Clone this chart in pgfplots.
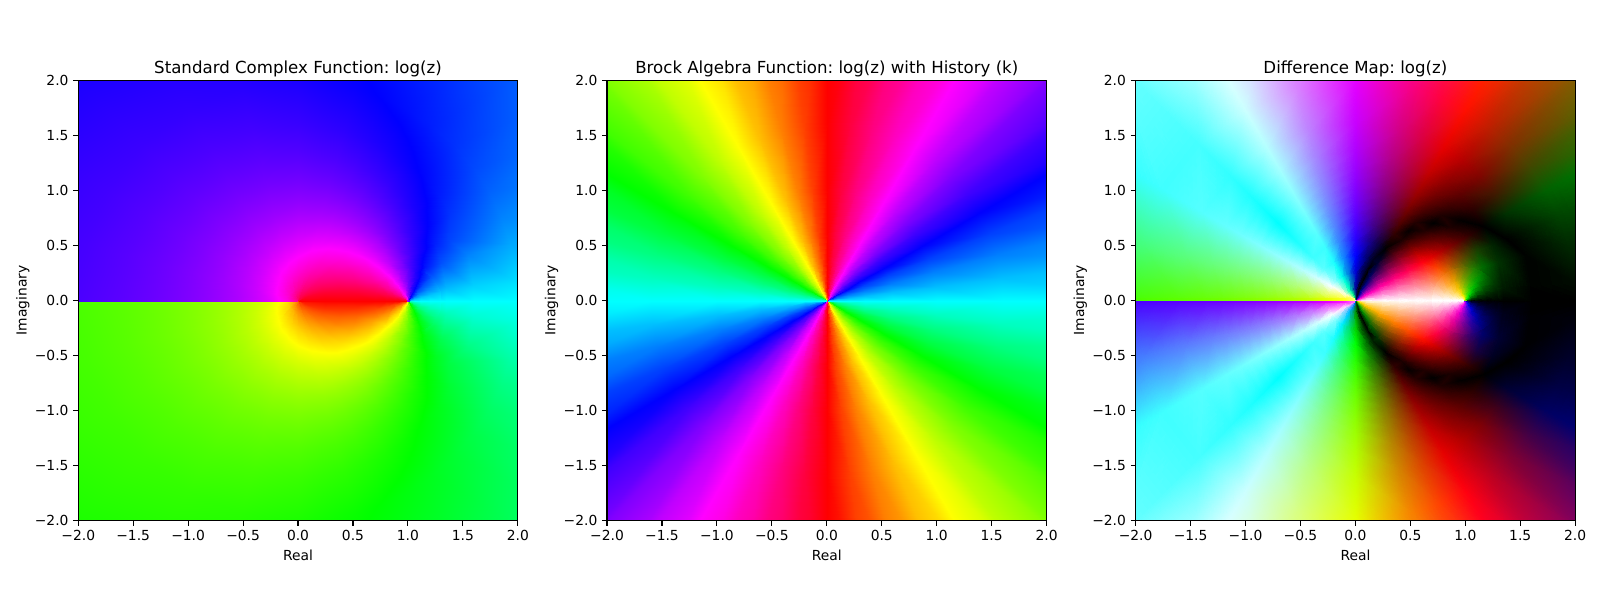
\documentclass[border=0pt]{standalone}
\usepackage{pgfplots}
\pgfplotsset{compat=1.18}
\usepackage{pgfplotstable}
\usepackage{fontspec}
\setmainfont{DejaVu Sans}
\frenchspacing
% upper half plane on a polar grid: angle, radius, hue of left panel, rgb of right panel
\pgfplotstableread{
t r H R G B
0 0.01 360 1 1 1
5 0.01 358.9 1 .83 .98
15 0.01 356.75 1 .5 .95
22.5 0.01 355.13 1 .25 .92
30 0.01 353.5 1 0 .89
37.5 0.01 351.9 .75 0 .87
45 0.01 350.3 .5 0 .84
52.5 0.01 348.75 .25 0 .81
60 0.01 347.2 0 0 .79
67.5 0.01 345.65 0 0 .51
75 0.01 344.1 0 0 .24
90 0.01 341.2 0 0 .31
105 0.01 338.3 0 .5 .36
120 0.01 335.5 0 1 .41
135 0.01 332.9 .5 1 .45
150 0.01 330.4 1 1 .49
165 0.01 328 1 1 .03
180 0.01 325.7 1 1 .43
0 0.1 360 1 1 1
5 0.1 357.8 1 .83 .96
15 0.1 353.5 1 .5 .89
22.5 0.1 350.3 1 .25 .84
30 0.1 347.2 1 0 .79
37.5 0.1 344.1 .75 0 .74
45 0.1 341.2 .5 0 .69
52.5 0.1 338.3 .25 0 .64
60 0.1 335.6 0 0 .59
67.5 0.1 332.9 0 0 .3
75 0.1 330.4 0 0 .01
90 0.1 325.7 0 0 .57
105 0.1 321.5 0 .5 .64
120 0.1 317.7 0 1 .7
135 0.1 314.4 .5 1 .76
150 0.1 311.3 1 1 .81
165 0.1 308.7 1 1 .36
180 0.1 306.2 1 1 .1
0 0.25 360 1 1 1
5 0.25 356.4 1 .83 .94
15 0.25 349.3 1 .5 .82
22.5 0.25 344.2 1 .25 .74
30 0.25 339.3 1 0 .65
37.5 0.25 334.7 .75 0 .58
45 0.25 330.5 .5 0 .51
52.5 0.25 326.5 .25 0 .44
60 0.25 322.9 0 0 .38
67.5 0.31 314.8 0 0 0
75 0.25 316.6 0 0 .22
90 0.25 311.4 0 0 .81
105 0.25 307.1 0 .5 .88
120 0.25 303.5 0 1 .94
135 0.25 300.5 .5 1 .99
150 0.25 297.9 .97 1 1
165 0.25 295.7 .93 1 .5
180 0.25 293.8 .9 1 0
0 0.4 360 1 1 1
5 0.4 354.6 1 .83 .91
15 0.4 344.1 1 .5 .73
22.5 0.4 336.8 1 .25 .61
30 0.4 330.3 1 0 .5
37.5 0.4 324.5 .75 0 .41
45 0.4 319.4 .5 0 .32
52.5 0.4 315 .25 0 .25
60 0.4 311.2 0 0 .19
67.5 0.4 307.9 0 0 .12
75 0.4 305 0 0 .42
90 0.4 300.3 0 0 1
105 0.4 296.6 .06 .5 1
120 0.4 293.6 .11 1 1
135 0.4 291.2 .35 1 1
150 0.4 289.3 .82 1 1
165 0.4 287.6 .79 1 .5
180 0.4 286.3 .77 1 0
0 0.55 360 1 1 1
5 0.55 351.7 1 .83 .86
15 0.55 336.4 1 .5 .61
22.5 0.55 326.7 1 .25 .44
30 0.55 318.8 1 0 .31
37.5 0.55 312.4 .75 0 .21
45 0.55 307.3 .5 0 .12
52.5 0.55 303.1 .25 0 .05
60 0.55 299.7 0 0 0
67.5 0.55 296.9 .05 0 .25
75 0.55 294.6 .09 0 .5
90 0.55 290.8 .15 0 1
105 0.55 288.1 .2 .5 1
120 0.55 285.9 .23 1 1
135 0.55 284.2 .24 1 1
150 0.55 282.9 .71 1 1
165 0.55 281.7 .7 1 .5
180 0.55 280.8 .68 1 0
0 0.7 360 1 1 1
5 0.7 346.3 1 .83 .77
15 0.7 323.8 1 .5 .4
22.5 0.7 312.3 1 .25 .2
30 0.7 304.3 1 0 .07
37.5 0.7 298.6 .73 0 0
45 0.7 294.4 .41 0 0
52.5 0.7 291.3 .11 0 0
60 0.7 288.8 .19 0 0
67.5 0.7 286.9 .22 0 .25
75 0.7 285.3 .25 0 .5
90 0.7 282.8 .29 0 1
105 0.7 281 .32 .5 1
120 0.7 279.7 .34 1 1
135 0.7 278.6 .14 1 1
150 0.7 277.8 .63 1 1
165 0.7 277.1 .62 1 .5
180 0.7 276.5 .61 1 0
0 0.8 360 1 1 1
5 0.8 338.6 1 .83 .64
15 0.8 310.4 1 .5 .17
22.5 0.8 299.6 .99 .25 0
30 0.8 293.1 .88 0 0
37.5 0.8 288.8 .56 0 0
45 0.8 285.9 .26 0 0
52.5 0.8 283.7 .02 0 0
60 0.8 282 .3 0 0
67.5 0.8 280.7 .32 0 .25
75 0.8 279.7 .34 0 .5
90 0.8 278.1 .37 0 1
105 0.8 276.9 .38 .5 1
120 0.8 276.1 .4 1 1
135 0.8 275.4 .09 1 1
150 0.8 274.9 .58 1 1
165 0.8 274.4 .57 1 .5
180 0.8 274.1 .57 1 0
0 0.9 360 1 1 1
5 0.9 320.3 1 .83 .34
15 0.9 291.9 .86 .5 0
22.5 0.9 285 .75 .25 0
30 0.9 281.3 .69 0 0
37.5 0.9 279.1 .4 0 0
45 0.9 277.6 .13 0 0
52.5 0.9 276.5 .14 0 0
60 0.9 275.7 .4 0 0
67.5 0.9 275.1 .42 0 .25
75 0.9 274.6 .42 0 .5
90 0.9 273.8 .44 0 1
105 0.9 273.3 .45 .5 1
120 0.9 272.9 .45 1 1
135 0.9 272.6 .04 1 1
150 0.9 272.3 .54 1 1
165 0.9 272.1 .53 1 .5
180 0.9 271.9 .53 1 0
0 1 270 .5 1 0
5 1 270 .5 .83 0
15 1 270 .5 .5 0
22.5 1 270 .5 .25 0
30 1 270 .5 0 0
37.5 1 270 .25 0 0
45 1 270 0 0 0
52.5 1 270 .25 0 0
60 1 270 .5 0 0
67.5 1 270 .5 0 .25
75 1 270 .5 0 .5
90 1 270 .5 0 1
105 1 270 .5 .5 1
120 1 270 .5 1 1
135 1 270 0 1 1
150 1 270 .5 1 1
165 1 270 .5 1 .5
180 1 270 .5 1 0
0 1.1 180 0 0 0
5 1.1 222.6 0 .54 0
15 1.1 250.1 .17 .5 0
22.5 1.1 256.4 .27 .25 0
30 1.1 259.7 .33 0 0
37.5 1.1 261.7 .11 0 0
45 1.1 263.1 .12 0 0
52.5 1.1 264.1 .35 0 0
60 1.1 264.8 .59 0 0
67.5 1.1 265.4 .58 0 .25
75 1.1 265.9 .57 0 .5
90 1.1 266.5 .56 0 1
105 1.1 267 .55 .5 1
120 1.1 267.4 .54 1 1
135 1.1 267.7 .04 1 1
150 1.1 267.9 .47 1 1
165 1.1 268.1 .47 1 .5
180 1.1 268.3 .47 1 0
0 1.2 180 0 0 0
5 1.2 205.6 0 .26 0
15 1.2 235.2 0 .42 0
22.5 1.2 245.1 .09 .25 0
30 1.2 250.8 .18 0 0
37.5 1.2 254.5 .01 0 0
45 1.2 257 .22 0 0
52.5 1.2 258.8 .44 0 0
60 1.2 260.1 .66 0 0
67.5 1.2 261.2 .65 0 .25
75 1.2 262.1 .63 0 .5
90 1.2 263.4 .61 0 1
105 1.2 264.3 .59 .5 1
120 1.2 265 .58 1 1
135 1.2 265.6 .07 1 1
150 1.2 266 .43 1 1
165 1.2 266.4 .44 1 .5
180 1.2 266.7 .44 1 0
0 1.35 180 0 0 0
5 1.35 196.2 0 .1 0
15 1.35 221.1 0 .19 0
22.5 1.35 232.6 0 .13 0
30 1.35 240.2 0 0 0
37.5 1.35 245.4 .16 0 0
45 1.35 249.1 .35 0 0
52.5 1.35 251.9 .55 0 0
60 1.35 254 .77 0 0
67.5 1.35 255.7 .74 0 .25
75 1.35 257.1 .72 0 .5
90 1.35 259.2 .68 0 1
105 1.35 260.7 .65 .5 1
120 1.35 261.9 .64 1 1
135 1.35 262.7 .12 1 1
150 1.35 263.5 .39 1 1
165 1.35 264.1 .4 1 .5
180 1.35 264.6 .41 1 0
0 1.6 180 0 0 0
5 1.6 190.5 0 .01 0
15 1.6 209.1 0 .01 0
22.5 1.48 225 0 0 0
30 1.6 228.1 0 .2 0
37.5 1.6 234.3 .25 .1 0
45 1.6 239.1 .5 .02 0
52.5 1.6 242.8 .7 0 0
60 1.6 245.8 .9 0 0
67.5 1.6 248.3 .86 0 .25
75 1.6 250.3 .83 0 .5
90 1.6 253.3 .78 0 1
105 1.6 255.6 .74 .5 1
120 1.6 257.4 .71 1 1
135 1.6 258.7 .19 1 1
150 1.6 259.8 .33 1 1
165 1.6 260.7 .35 1 .5
180 1.6 261.5 .36 1 0
0 2 180 0 0 0
5 2 187.2 0 .05 0
15 2 200.7 0 .16 0
22.5 2 209.5 0 .26 0
30 2 217.1 0 .38 0
37.5 2 223.4 .25 .28 0
45 2 228.6 .5 .19 0
52.5 2 232.9 .75 .12 0
60 2 236.5 1 .06 0
67.5 2 239.5 1 .01 .25
75 2 242.1 .97 0 .5
90 2 246.2 .9 0 1
105 2 249.3 .85 .5 1
120 2 251.7 .8 1 1
135 2 253.6 .27 1 1
150 2 255.2 .25 1 1
165 2 256.5 .27 1 .5
180 2 257.6 .29 1 0
0 3 180 0 0 0
5 3 184.5 0 .09 0
15 3 193.4 0 .28 0
22.5 3 199.7 0 .42 0
30 3 205.5 0 .58 0
37.5 3 210.8 .25 .49 0
45 3 215.6 .5 .41 0
52.5 3 219.8 .75 .34 0
60 3 223.6 1 .27 0
67.5 3 227 1 .22 .25
75 3 230 1 .17 .5
90 3 235 1 .08 1
105 3 239.1 1 .48 1
120 3 242.3 .96 1 1
135 3 245 .42 1 1
150 3 247.2 .12 1 1
165 3 249.1 .15 1 .5
180 3 250.7 .18 1 0
}\dataUp
% finer patch around z=1, upper half: x, y, hue of left panel, rgb of right panel
\pgfplotstableread{
x y H R G B
1.02 0 180 0 0 0
1.019 .005 194.85 0 .24 0
1.017 .01 209.7 0 .48 0
1.014 .014 224.6 0 .71 0
1.01 .017 239.5 0 .96 0
1.005 .019 254.5 .24 .96 0
1 .02 269.4 .49 .96 0
.995 .019 284.5 .74 .96 0
.99 .017 299.5 .99 .97 0
.986 .014 314.6 1 .97 .24
.983 .01 329.7 1 .98 .5
.981 .005 344.85 1 .99 .75
.98 0 360 1 1 1
1.06 0 180 0 0 0
1.058 .016 194.6 0 .21 0
1.052 .03 209.2 0 .44 0
1.042 .042 223.8 0 .65 0
1.03 .052 238.55 0 .88 0
1.016 .058 253.4 .22 .89 0
1 .06 268.3 .47 .885 0
.984 .058 283.3 .72 .89 0
.97 .052 298.5 .97 .9 0
.958 .042 313.75 1 .915 .23
.948 .03 329.1 1 .94 .49
.942 .016 344.5 1 .97 .74
.94 0 360 1 1 1
1.12 0 180 0 0 0
1.116 .031 194.2 0 .18 0
1.104 .06 208.4 0 .37 0
1.085 .085 222.7 0 .56 0
1.06 .104 237.2 0 .77 0
1.031 .116 251.8 .2 .79 0
1 .12 266.6 .44 .77 0
.969 .116 281.6 .69 .77 0
.94 .104 296.9 .95 .79 0
.915 .085 312.4 1 .82 .21
.896 .06 328.1 1 .87 .47
.884 .031 344 1 .93 .73
.88 0 360 1 1 1
1.2 0 180 0 0 0
1.193 .052 193.7 0 .15 0
1.173 .1 207.5 0 .3 0
1.141 .141 221.4 0 .46 0
1.1 .173 235.5 0 .63 0
1.052 .193 249.8 .16 .65 0
1 .2 264.3 .41 .62 0
.948 .193 279.3 .65 .62 0
.9 .173 294.6 .91 .64 0
.859 .141 310.4 1 .69 .17
.827 .1 326.7 1 .77 .44
.807 .052 343.2 1 .88 .72
.8 0 360 1 1 1
1.3 0 180 0 0 0
1.29 .078 193.2 0 .105 0
1.26 .15 206.5 0 .215 0
1.212 .212 219.9 0 .33 0
1.15 .26 233.5 0 .47 0
1.078 .29 247.3 .12 .5 0
1 .3 261.6 .36 .44 0
.922 .29 276.4 .61 .42 0
.85 .26 291.7 .86 .43 0
.788 .212 307.7 1 .5 .13
.74 .15 324.6 1 .62 .41
.71 .078 342 1 .79 .7
.7 0 360 1 1 1
}\dataOne
% thin strip under the real axis, so no background shows along the cut
\pgfplotstableread{
x y H R G B
-3 -.012 250.7 .18 1 0
-2 -.012 257.6 .29 1 0
-1.6 -.012 261.5 .36 1 0
-1.35 -.012 264.6 .41 1 0
-1.2 -.012 266.7 .44 1 0
-1.1 -.012 268.3 .47 1 0
-1 -.012 270 .5 1 0
-.9 -.012 271.9 .53 1 0
-.8 -.012 274.1 .57 1 0
-.7 -.012 276.5 .61 1 0
-.55 -.012 280.8 .68 1 0
-.4 -.012 286.3 .77 1 0
-.25 -.012 293.8 .9 1 0
-.1 -.012 306.2 1 1 .1
-.01 -.012 325.7 1 1 .43
.01 -.012 360 1 1 1
.98 -.012 360 1 1 1
1.02 -.012 180 0 0 0
3 -.012 180 0 0 0
-3 .03 250.7 .18 1 0
-2 .03 257.6 .29 1 0
-1.6 .03 261.5 .36 1 0
-1.35 .03 264.6 .41 1 0
-1.2 .03 266.7 .44 1 0
-1.1 .03 268.3 .47 1 0
-1 .03 270 .5 1 0
-.9 .03 271.9 .53 1 0
-.8 .03 274.1 .57 1 0
-.7 .03 276.5 .61 1 0
-.55 .03 280.8 .68 1 0
-.4 .03 286.3 .77 1 0
-.25 .03 293.8 .9 1 0
-.1 .03 306.2 1 1 .1
-.01 .03 325.7 1 1 .43
.01 .03 360 1 1 1
.98 .03 360 1 1 1
1.02 .03 180 0 0 0
3 .03 180 0 0 0
}\dataCut
% same colours along the negative axis only, laid over the right panel's cut
\pgfplotstableread{
x y R G B
-3 -.002 .18 1 0
-2 -.002 .29 1 0
-1.6 -.002 .36 1 0
-1.35 -.002 .41 1 0
-1.2 -.002 .44 1 0
-1.1 -.002 .47 1 0
-1 -.002 .5 1 0
-.9 -.002 .53 1 0
-.8 -.002 .57 1 0
-.7 -.002 .61 1 0
-.55 -.002 .68 1 0
-.4 -.002 .77 1 0
-.25 -.002 .9 1 0
-.1 -.002 1 1 .1
-.01 -.002 1 1 .43
-3 .02 .18 1 0
-2 .02 .29 1 0
-1.6 .02 .36 1 0
-1.35 .02 .41 1 0
-1.2 .02 .44 1 0
-1.1 .02 .47 1 0
-1 .02 .5 1 0
-.9 .02 .53 1 0
-.8 .02 .57 1 0
-.7 .02 .61 1 0
-.55 .02 .68 1 0
-.4 .02 .77 1 0
-.25 .02 .9 1 0
-.1 .02 1 1 .1
-.01 .02 1 1 .43
}\dataCutTop
\pgfplotstableread{
x y H
-3 -.03 180
3 -.03 180
-3 .03 180
3 .03 180
}\dataMidCut
% middle panel: hue depends on the angle only
\pgfplotstableread{
t r H
0 0.008 180
7.5 0.008 195
15 0.008 210
22.5 0.008 225
30 0.008 240
37.5 0.008 255
45 0.008 270
52.5 0.008 285
60 0.008 300
67.5 0.008 315
75 0.008 330
82.5 0.008 345
90 0.008 360
97.5 0.008 375
105 0.008 390
112.5 0.008 405
120 0.008 420
127.5 0.008 435
135 0.008 450
142.5 0.008 465
150 0.008 480
157.5 0.008 495
165 0.008 510
172.5 0.008 525
180 0.008 540
0 0.1 180
7.5 0.1 195
15 0.1 210
22.5 0.1 225
30 0.1 240
37.5 0.1 255
45 0.1 270
52.5 0.1 285
60 0.1 300
67.5 0.1 315
75 0.1 330
82.5 0.1 345
90 0.1 360
97.5 0.1 375
105 0.1 390
112.5 0.1 405
120 0.1 420
127.5 0.1 435
135 0.1 450
142.5 0.1 465
150 0.1 480
157.5 0.1 495
165 0.1 510
172.5 0.1 525
180 0.1 540
0 0.2 180
7.5 0.2 195
15 0.2 210
22.5 0.2 225
30 0.2 240
37.5 0.2 255
45 0.2 270
52.5 0.2 285
60 0.2 300
67.5 0.2 315
75 0.2 330
82.5 0.2 345
90 0.2 360
97.5 0.2 375
105 0.2 390
112.5 0.2 405
120 0.2 420
127.5 0.2 435
135 0.2 450
142.5 0.2 465
150 0.2 480
157.5 0.2 495
165 0.2 510
172.5 0.2 525
180 0.2 540
0 0.35 180
7.5 0.35 195
15 0.35 210
22.5 0.35 225
30 0.35 240
37.5 0.35 255
45 0.35 270
52.5 0.35 285
60 0.35 300
67.5 0.35 315
75 0.35 330
82.5 0.35 345
90 0.35 360
97.5 0.35 375
105 0.35 390
112.5 0.35 405
120 0.35 420
127.5 0.35 435
135 0.35 450
142.5 0.35 465
150 0.35 480
157.5 0.35 495
165 0.35 510
172.5 0.35 525
180 0.35 540
0 0.6 180
7.5 0.6 195
15 0.6 210
22.5 0.6 225
30 0.6 240
37.5 0.6 255
45 0.6 270
52.5 0.6 285
60 0.6 300
67.5 0.6 315
75 0.6 330
82.5 0.6 345
90 0.6 360
97.5 0.6 375
105 0.6 390
112.5 0.6 405
120 0.6 420
127.5 0.6 435
135 0.6 450
142.5 0.6 465
150 0.6 480
157.5 0.6 495
165 0.6 510
172.5 0.6 525
180 0.6 540
0 1 180
7.5 1 195
15 1 210
22.5 1 225
30 1 240
37.5 1 255
45 1 270
52.5 1 285
60 1 300
67.5 1 315
75 1 330
82.5 1 345
90 1 360
97.5 1 375
105 1 390
112.5 1 405
120 1 420
127.5 1 435
135 1 450
142.5 1 465
150 1 480
157.5 1 495
165 1 510
172.5 1 525
180 1 540
0 1.6 180
7.5 1.6 195
15 1.6 210
22.5 1.6 225
30 1.6 240
37.5 1.6 255
45 1.6 270
52.5 1.6 285
60 1.6 300
67.5 1.6 315
75 1.6 330
82.5 1.6 345
90 1.6 360
97.5 1.6 375
105 1.6 390
112.5 1.6 405
120 1.6 420
127.5 1.6 435
135 1.6 450
142.5 1.6 465
150 1.6 480
157.5 1.6 495
165 1.6 510
172.5 1.6 525
180 1.6 540
0 3 180
7.5 3 195
15 3 210
22.5 3 225
30 3 240
37.5 3 255
45 3 270
52.5 3 285
60 3 300
67.5 3 315
75 3 330
82.5 3 345
90 3 360
97.5 3 375
105 3 390
112.5 3 405
120 3 420
127.5 3 435
135 3 450
142.5 3 465
150 3 480
157.5 3 495
165 3 510
172.5 3 525
180 3 540
}\dataMid
\pgfplotsset{
 colormap={per}{rgb=(0,1,1) rgb=(0,0,1) rgb=(1,0,1) rgb=(1,0,0) rgb=(1,1,0) rgb=(0,1,0) rgb=(0,1,1) rgb=(0,0,1) rgb=(1,0,1) rgb=(1,0,0) rgb=(1,1,0) rgb=(0,1,0) rgb=(0,1,1)},
 panel/.style={anchor=south west,scale only axis,width=4.393in,height=4.4in,
  xmin=-2,xmax=2,ymin=-2,ymax=2,axis on top,
  colormap name=per,point meta min=-180,point meta max=540,
  xtick={-2,-1.5,-1,-0.5,0,0.5,1,1.5,2},ytick={-2,-1.5,-1,-0.5,0,0.5,1,1.5,2},
  xticklabels={−2.0,−1.5,−1.0,−0.5,0.0,0.5,1.0,1.5,2.0},
  yticklabels={−2.0,−1.5,−1.0,−0.5,0.0,0.5,1.0,1.5,2.0},
  tick align=outside,xtick pos=bottom,ytick pos=left,
  major tick length=3.5pt,
  every tick/.style={black,line width=0.8pt},
  axis line style={line width=0.8pt},
  tick label style={font=\fontsize{10}{12}\selectfont},
  xlabel=Real,ylabel=Imaginary,ylabel shift=-3pt,
  label style={font=\fontsize{10}{12}\selectfont},
  title style={font=\fontsize{12}{14}\selectfont,yshift=-7.2pt},
 },
 grid/.style={surf,shader=interp,mesh/rows=#1,data cs=polar},
 fine/.style={surf,shader=interp,mesh/rows=#1},
 rgbup/.style={mesh/color input=explicit mathparse,point meta={symbolic={\thisrow{R},\thisrow{G},\thisrow{B}}}},
 rgblo/.style={mesh/color input=explicit mathparse,point meta={symbolic={\thisrow{R},\thisrow{B},\thisrow{G}}}},
}
\begin{document}
\begin{tikzpicture}[x=0.01in,y=0.01in]
\path[use as bounding box] (0,0) rectangle (1600,600);
\begin{axis}[panel,at={(56.52pt,57.3pt)},title={Standard Complex Function: log(z)}]
\addplot[fine=2,point meta=\thisrow{H}] table[x=x,y=y]{\dataCut};
\addplot[fine=2,point meta={360-\thisrow{H}}] table[x=x,y expr={-\thisrow{y}}]{\dataCut};
\addplot[grid=15,point meta={360-\thisrow{H}}] table[x expr={-\thisrow{t}},y=r]{\dataUp};
\addplot[grid=15,point meta=\thisrow{H}] table[x expr={1.00222*\thisrow{t}-0.2},y=r]{\dataUp};
\addplot[fine=5,point meta={360-\thisrow{H}}] table[x=x,y expr={-\thisrow{y}}]{\dataOne};
\addplot[fine=5,point meta=\thisrow{H}] table[x=x,y expr={\thisrow{y}-0.002}]{\dataOne};
\end{axis}
\begin{axis}[panel,at={(438.46pt,57.3pt)},title={Brock Algebra Function: log(z) with History (k)}]
\addplot[fine=2,point meta=\thisrow{H}] table[x=x,y=y]{\dataMidCut};
\addplot[grid=8,point meta={360-\thisrow{H}}] table[x expr={-\thisrow{t}},y=r]{\dataMid};
\addplot[grid=8,point meta=\thisrow{H}] table[x expr={1.00222*\thisrow{t}-0.2},y=r]{\dataMid};
\end{axis}
\begin{axis}[panel,at={(820.26pt,57.3pt)},title={Difference Map: log(z)}]
\addplot[fine=2,rgbup] table[x=x,y=y]{\dataCut};
\addplot[fine=2,rgblo] table[x=x,y expr={-\thisrow{y}}]{\dataCut};
\addplot[grid=15,rgblo] table[x expr={-\thisrow{t}},y=r]{\dataUp};
\addplot[grid=15,rgbup] table[x expr={1.00222*\thisrow{t}-0.2},y=r]{\dataUp};
\addplot[fine=5,rgblo] table[x=x,y expr={-\thisrow{y}}]{\dataOne};
\addplot[fine=5,rgbup] table[x=x,y expr={\thisrow{y}-0.002}]{\dataOne};
\addplot[fine=2,rgblo] table[x=x,y expr={-\thisrow{y}}]{\dataCutTop};
\addplot[fine=2,rgbup] table[x=x,y=y]{\dataCutTop};
\end{axis}
\end{tikzpicture}
\end{document}
